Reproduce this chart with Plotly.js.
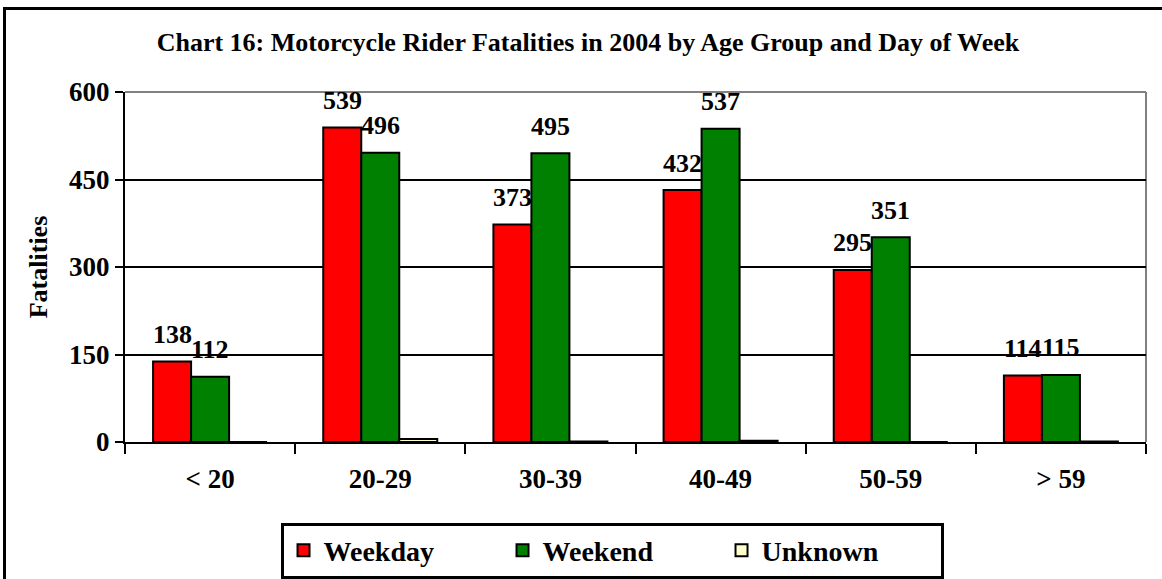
<!DOCTYPE html>
<html>
<head>
<meta charset="utf-8">
<script src="https://cdn.plot.ly/plotly-3.0.1.min.js"></script>
<style>
  html, body { margin: 0; padding: 0; background: #fff; overflow: hidden; }
  #chart { width: 1162px; height: 579px; position: absolute; left: 0; top: 0; }
  #frame { position: absolute; left: 3px; top: 7px; width: 1200px; height: 700px;
           border: 3px solid #000; pointer-events: none; }
</style>
</head>
<body>
<div id="chart"></div>
<div id="frame"></div>
<script>
/* Chart 16 — rider fatalities by age group and day of week */

const ageGroups = ['< 20', '20-29', '30-39', '40-49', '50-59', '> 59'];
const weekday = [138, 539, 373, 432, 295, 114];
const weekend = [112, 496, 495, 537, 351, 115];
const unknown = [0, 5, 1, 2, 0, 1];
const yTicks = [0, 150, 300, 450, 600];

const FONT = 'Liberation Serif, Times New Roman, serif';
const BARGAP = 0.33;
const PLOT_W = 1162 - 125 - 16;
const BAR_PX = PLOT_W / ageGroups.length * (1 - BARGAP) / 3;

function barTrace(name, vals, color) {
  return {
    type: 'bar', name: name, x: ageGroups, y: vals,
    marker: { color: color, line: { color: '#000', width: 2 } },
    hoverinfo: 'x+y+name'
  };
}

const data = [
  barTrace('Weekday', weekday, '#ff0000'),
  barTrace('Weekend', weekend, '#008000'),
  barTrace('Unknown', unknown, '#ffffcc')
];

// value labels sit well above each bar, so use annotations on the data scale
function labels(vals, shift) {
  return vals.map((v, i) => ({
    x: ageGroups[i], y: v, xref: 'x', yref: 'y',
    text: String(v), showarrow: false,
    xshift: shift, yshift: 27, yanchor: 'middle', xanchor: 'center',
    font: { family: FONT, size: 26, color: '#000', weight: 'bold' }
  }));
}

const layout = {
  width: 1162, height: 579,
  margin: { l: 125, r: 16, t: 92, b: 137, autoexpand: false },
  paper_bgcolor: 'rgba(0,0,0,0)', plot_bgcolor: '#fff',
  font: { family: FONT, color: '#000', weight: 'bold' },
  title: {
    text: 'Chart 16: Motorcycle Rider Fatalities in 2004 by Age Group and Day of Week',
    font: { family: FONT, size: 26, color: '#000', weight: 'bold' },
    x: 0.506, xanchor: 'center', y: 0.927, yanchor: 'middle'
  },
  barmode: 'group', bargap: BARGAP, bargroupgap: 0,
  showlegend: true,
  legend: {
    orientation: 'h', x: 0.477, xanchor: 'center', y: -0.23, yanchor: 'top',
    bordercolor: '#000', borderwidth: 3, bgcolor: '#fff',
    font: { family: FONT, size: 28, color: '#000', weight: 'bold' },
    entrywidth: 174, entrywidthmode: 'pixels',
    traceorder: 'normal'
  },
  xaxis: {
    type: 'category',
    tickfont: { family: FONT, size: 27, color: '#000', weight: 'bold' },
    ticks: 'outside', tickson: 'boundaries', ticklen: 10, tickwidth: 2, tickcolor: '#000',
    ticklabelstandoff: 12,
    showline: true, linecolor: '#000', linewidth: 2,
    showgrid: false, zeroline: false
  },
  yaxis: {
    range: [0, 600], tickvals: yTicks, ticktext: yTicks.map(String),
    tickfont: { family: FONT, size: 27, color: '#000', weight: 'bold' },
    ticks: 'outside', ticklen: 8, tickwidth: 2, tickcolor: '#000',
    showline: true, linecolor: '#000', linewidth: 2,
    showgrid: true, gridcolor: '#000', gridwidth: 2,
    zeroline: false,
    title: { text: 'Fatalities', font: { family: FONT, size: 26, color: '#000', weight: 'bold' }, standoff: 14 }
  },
  annotations: labels(weekday, -BAR_PX).concat(labels(weekend, 0)),
  shapes: [
    // grey plot-area border on top and right, like the original
    { type: 'line', xref: 'paper', yref: 'paper', x0: 0, x1: 1, y0: 1, y1: 1, line: { color: '#808080', width: 2 }, layer: 'above' },
    { type: 'line', xref: 'paper', yref: 'paper', x0: 1, x1: 1, y0: 0, y1: 1, line: { color: '#808080', width: 2 }, layer: 'below' }
  ]
};

Plotly.newPlot('chart', data, layout, { displayModeBar: false, staticPlot: true });
</script>
</body>
</html>
